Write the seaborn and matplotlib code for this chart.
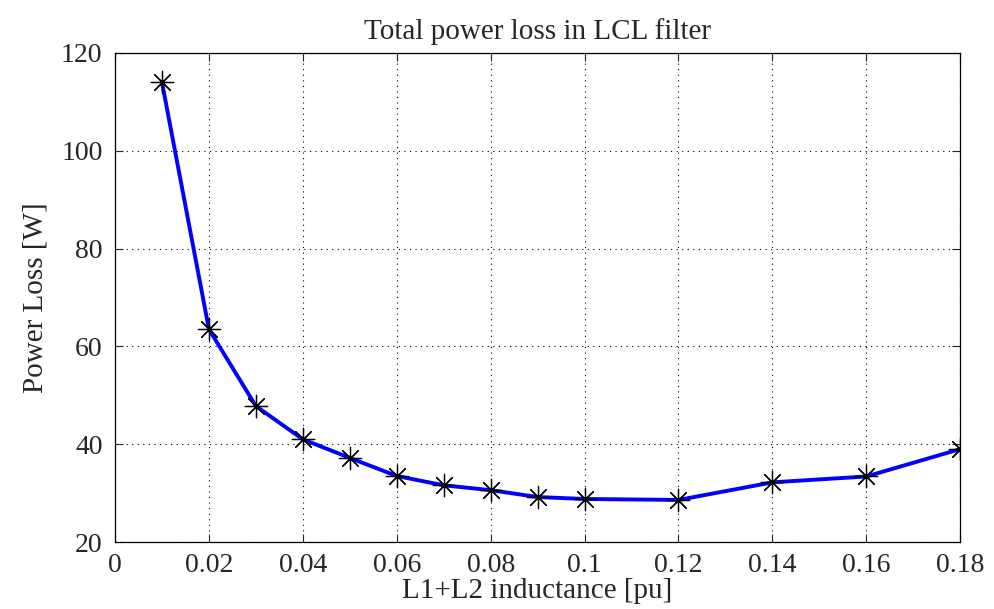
import matplotlib.pyplot as plt
import matplotlib
import seaborn as sns
import pandas as pd

sns.set_style("ticks")
matplotlib.rc('font', family=['Liberation Serif', 'DejaVu Serif'], size=20)

inductance = [0.01, 0.02, 0.03, 0.04, 0.05, 0.06, 0.07, 0.08, 0.09, 0.10, 0.12, 0.14, 0.16, 0.18]
power_loss = [114.0, 63.5, 47.8, 41.0, 37.2, 33.5, 31.6, 30.6, 29.2, 28.8, 28.6, 32.2, 33.4, 39.0]
x_ticks = [0, 0.02, 0.04, 0.06, 0.08, 0.1, 0.12, 0.14, 0.16, 0.18]
x_labels = ['0', '0.02', '0.04', '0.06', '0.08', '0.1', '0.12', '0.14', '0.16', '0.18']
y_ticks = [20, 40, 60, 80, 100, 120]

df = pd.DataFrame({'L': inductance, 'P': power_loss})

fig = plt.figure(figsize=[9.95, 6.09], dpi=100)
ax = fig.add_axes([0.1156, 0.110, 0.8494, 0.803])

sns.lineplot(data=df, x='L', y='P', ax=ax, color='#0000ff', linewidth=2.8, zorder=3)
sns.scatterplot(data=df, x='L', y='P', ax=ax, marker=(8, 2, 0), s=260,
                color='black', edgecolor='black', linewidth=0.9, zorder=4)

ax.set_xlim(0, 0.18)
ax.set_ylim(20, 120)
ax.set_xticks(x_ticks)
ax.set_xticklabels(x_labels)
ax.set_yticks(y_ticks)
ax.grid(True, color='black', linestyle=(0, (1, 4)), linewidth=0.8)
ax.tick_params(direction='in', top=True, right=True, length=6, width=0.8, pad=9,
               labelsize=20)
ax.tick_params(axis='x', pad=8)
for s in ax.spines.values():
    s.set_linewidth(0.9)
    s.set_color('black')

ax.set_xlabel('L1+L2 inductance [pu]', fontsize=21, labelpad=0)
ax.set_ylabel('Power Loss [W]', fontsize=21, labelpad=9)
ax.set_title('Total power loss in LCL filter', fontsize=21, pad=10)

plt.savefig('out.png', dpi=100)
plt.close(fig)
